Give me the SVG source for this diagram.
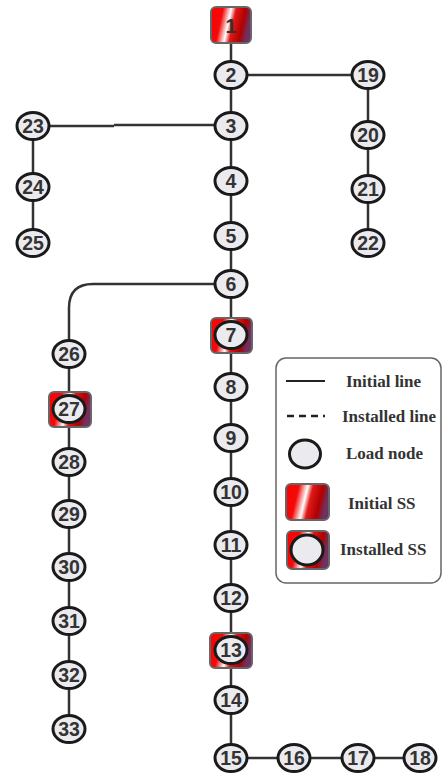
<svg xmlns="http://www.w3.org/2000/svg" width="442" height="778" viewBox="0 0 442 778">
<defs>
<linearGradient id="ssg" x1="0" y1="0" x2="1" y2="0.2">
<stop offset="0" stop-color="#ff0000"/>
<stop offset="0.3" stop-color="#f20a0a"/>
<stop offset="0.5" stop-color="#ffffff"/>
<stop offset="0.62" stop-color="#e01818"/>
<stop offset="0.85" stop-color="#b00000"/>
<stop offset="1" stop-color="#703060"/>
</linearGradient>
</defs>
<style>
.ln{stroke:#333;stroke-width:2.5;fill:none}
.nd{fill:#ebebef;stroke:#1a1a1a;stroke-width:3}
.ss{fill:url(#ssg);stroke:#666;stroke-width:2}
.t{font-family:"Liberation Sans",Arial,sans-serif;font-weight:bold;font-size:19.5px;fill:#333;text-anchor:middle}
.lg{font-family:"Liberation Serif","Times New Roman",serif;font-weight:bold;font-size:17px;fill:#333}
</style>
<g id="connectors">
<line class="ln" x1="231" y1="26" x2="231" y2="758"/>
<line class="ln" x1="231" y1="75" x2="368" y2="75"/>
<line class="ln" x1="368" y1="75" x2="368" y2="243"/>
<line class="ln" x1="231" y1="125" x2="114" y2="125"/>
<line class="ln" x1="114" y1="126" x2="33" y2="126"/>
<line class="ln" x1="33" y1="126" x2="33" y2="243"/>
<path class="ln" d="M231 284 H93 Q69 284 69 308 V729"/>
<line class="ln" x1="231" y1="758" x2="420" y2="758"/>
</g>
<g id="n1"><rect class="ss" x="211" y="7" width="40" height="36" rx="5"/><text class="t" x="231" y="33">1</text></g>
<g id="n2"><ellipse class="nd" cx="231" cy="75" rx="16" ry="13.5"/><text class="t" x="231" y="82">2</text></g>
<g id="n3"><ellipse class="nd" cx="231" cy="126" rx="16" ry="13.5"/><text class="t" x="231" y="133">3</text></g>
<g id="n4"><ellipse class="nd" cx="231" cy="181" rx="16" ry="13.5"/><text class="t" x="231" y="188">4</text></g>
<g id="n5"><ellipse class="nd" cx="231" cy="236" rx="16" ry="13.5"/><text class="t" x="231" y="243">5</text></g>
<g id="n6"><ellipse class="nd" cx="231" cy="284" rx="16" ry="13.5"/><text class="t" x="231" y="291">6</text></g>
<g id="n7"><rect class="ss" x="211" y="318" width="41" height="35" rx="5"/><ellipse class="nd" cx="231" cy="335" rx="16" ry="13.5"/><text class="t" x="231" y="342">7</text></g>
<g id="n8"><ellipse class="nd" cx="231" cy="387" rx="16" ry="13.5"/><text class="t" x="231" y="394">8</text></g>
<g id="n9"><ellipse class="nd" cx="231" cy="438" rx="16" ry="13.5"/><text class="t" x="231" y="445">9</text></g>
<g id="n10"><ellipse class="nd" cx="231" cy="492" rx="16" ry="13.5"/><text class="t" x="231" y="499">10</text></g>
<g id="n11"><ellipse class="nd" cx="231" cy="545" rx="16" ry="13.5"/><text class="t" x="231" y="552">11</text></g>
<g id="n12"><ellipse class="nd" cx="231" cy="598" rx="16" ry="13.5"/><text class="t" x="231" y="605">12</text></g>
<g id="n13"><rect class="ss" x="210" y="633" width="42" height="35" rx="5"/><ellipse class="nd" cx="231" cy="650" rx="16" ry="13.5"/><text class="t" x="231" y="657">13</text></g>
<g id="n14"><ellipse class="nd" cx="231" cy="700" rx="16" ry="13.5"/><text class="t" x="231" y="707">14</text></g>
<g id="n15"><ellipse class="nd" cx="231" cy="758" rx="16" ry="13.5"/><text class="t" x="231" y="765">15</text></g>
<g id="n16"><ellipse class="nd" cx="294" cy="758" rx="16" ry="13.5"/><text class="t" x="294" y="765">16</text></g>
<g id="n17"><ellipse class="nd" cx="358" cy="758" rx="16" ry="13.5"/><text class="t" x="358" y="765">17</text></g>
<g id="n18"><ellipse class="nd" cx="420" cy="758" rx="16" ry="13.5"/><text class="t" x="420" y="765">18</text></g>
<g id="n19"><ellipse class="nd" cx="368" cy="75" rx="16" ry="13.5"/><text class="t" x="368" y="82">19</text></g>
<g id="n20"><ellipse class="nd" cx="368" cy="135" rx="16" ry="13.5"/><text class="t" x="368" y="142">20</text></g>
<g id="n21"><ellipse class="nd" cx="368" cy="189" rx="16" ry="13.5"/><text class="t" x="368" y="196">21</text></g>
<g id="n22"><ellipse class="nd" cx="368" cy="243" rx="16" ry="13.5"/><text class="t" x="368" y="250">22</text></g>
<g id="n23"><ellipse class="nd" cx="33" cy="126" rx="16" ry="13.5"/><text class="t" x="33" y="133">23</text></g>
<g id="n24"><ellipse class="nd" cx="33" cy="187" rx="16" ry="13.5"/><text class="t" x="33" y="194">24</text></g>
<g id="n25"><ellipse class="nd" cx="33" cy="243" rx="16" ry="13.5"/><text class="t" x="33" y="250">25</text></g>
<g id="n26"><ellipse class="nd" cx="69" cy="354" rx="16" ry="13.5"/><text class="t" x="69" y="361">26</text></g>
<g id="n27"><rect class="ss" x="49" y="392" width="42" height="35" rx="5"/><ellipse class="nd" cx="69" cy="409" rx="16" ry="13.5"/><text class="t" x="69" y="416">27</text></g>
<g id="n28"><ellipse class="nd" cx="69" cy="462" rx="16" ry="13.5"/><text class="t" x="69" y="469">28</text></g>
<g id="n29"><ellipse class="nd" cx="69" cy="514" rx="16" ry="13.5"/><text class="t" x="69" y="521">29</text></g>
<g id="n30"><ellipse class="nd" cx="69" cy="567" rx="16" ry="13.5"/><text class="t" x="69" y="574">30</text></g>
<g id="n31"><ellipse class="nd" cx="69" cy="621" rx="16" ry="13.5"/><text class="t" x="69" y="628">31</text></g>
<g id="n32"><ellipse class="nd" cx="69" cy="675" rx="16" ry="13.5"/><text class="t" x="69" y="682">32</text></g>
<g id="n33"><ellipse class="nd" cx="69" cy="729" rx="16" ry="13.5"/><text class="t" x="69" y="736">33</text></g>
<g id="legend">
<rect x="276" y="358" width="165" height="225" rx="10" fill="#fff" stroke="#666" stroke-width="1.5"/>
<line x1="286" y1="381" x2="325" y2="381" stroke="#222" stroke-width="2"/>
<text class="lg" x="346" y="387">Initial line</text>
<line x1="287" y1="416" x2="325" y2="416" stroke="#222" stroke-width="2.5" stroke-dasharray="7,5"/>
<text class="lg" x="342" y="422">Installed line</text>
<ellipse class="nd" cx="305" cy="454" rx="15.5" ry="14"/>
<text class="lg" x="346" y="459">Load node</text>
<rect class="ss" x="286" y="484" width="43" height="36" rx="5"/>
<text class="lg" x="348" y="509">Initial SS</text>
<rect class="ss" x="287" y="531" width="42" height="38" rx="5"/>
<ellipse class="nd" cx="307" cy="550" rx="16" ry="15"/>
<text class="lg" x="340" y="555">Installed SS</text>
</g>
</svg>
